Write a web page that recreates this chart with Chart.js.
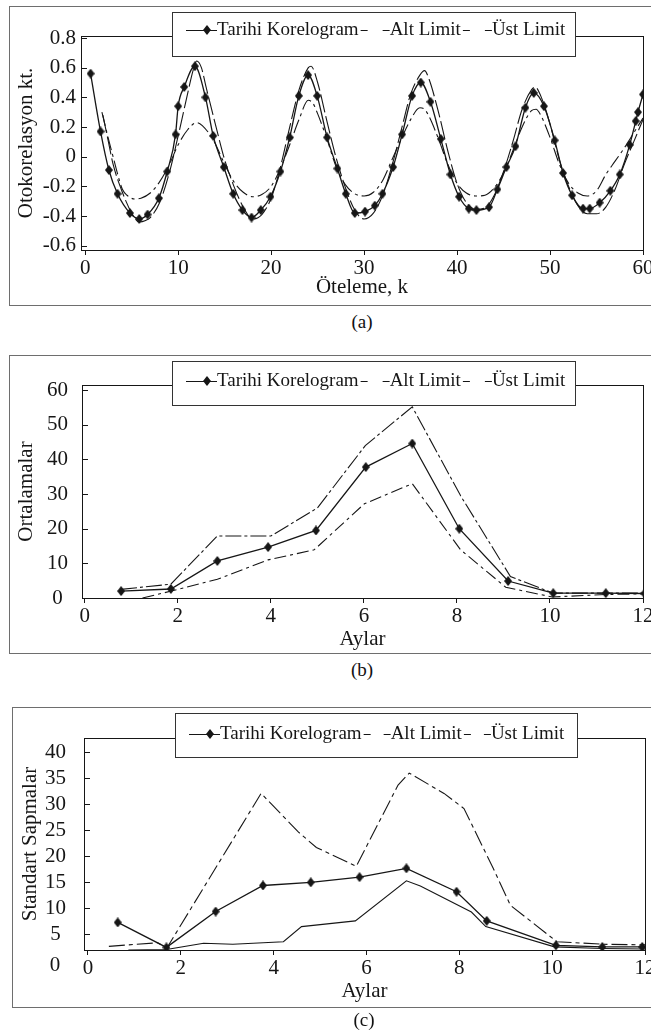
<!DOCTYPE html>
<html>
<head>
<meta charset="utf-8">
<script src="https://cdn.jsdelivr.net/npm/chart.js@4.4.0/dist/chart.umd.min.js"></script>
<style>
  html, body { margin: 0; padding: 0; background: #fff; overflow: hidden; width: 651px; height: 1035px; }
  body { position: relative; font-family: "Liberation Serif", "Times New Roman", serif; color: #111; }
  .frame { position: absolute; border: 1.5px solid #6e6e6e; width: 720px; box-sizing: border-box; }
  canvas { position: absolute; left: 0; }
  .cap { position: absolute; width: 100px; text-align: center; font-size: 19px; line-height: 22px; }
</style>
</head>
<body>
<div class="frame" style="left:9px; top:6px; height:300px"></div>
<div class="frame" style="left:9px; top:355px; height:299px"></div>
<div class="frame" style="left:12px; top:707px; height:301px"></div>

<canvas id="chartA" width="700" height="310" style="top:0px"></canvas>
<canvas id="chartB" width="700" height="315" style="top:340px"></canvas>
<canvas id="chartC" width="700" height="320" style="top:690px"></canvas>

<div class="cap" style="left:312px; top:311px">(a)</div>
<div class="cap" style="left:312px; top:659px">(b)</div>
<div class="cap" style="left:314px; top:1009px">(c)</div>

<script>
const legendNames = ["Tarihi Korelogram", "Alt Limit", "Üst Limit"];

// (a) otokorelasyon
const aLagT = [0.58, 1.65, 2.55, 3.48, 4.81, 5.81, 6.71, 7.92, 8.82, 9.72, 10.0, 10.65, 11.8, 12.94, 13.77, 14.91, 15.92, 16.92, 17.89, 18.89, 19.93, 21.0, 22.0, 22.98, 23.98, 24.95, 26.02, 27.13, 28.03, 29.0, 30.1, 31.15, 31.98, 33.12, 34.09, 35.16, 36.1, 37.14, 38.25, 39.29, 40.22, 41.26, 42.08, 43.44, 44.34, 45.31, 46.28, 47.35, 48.25, 49.35, 50.5, 51.4, 52.37, 53.55, 54.27, 55.34, 56.49, 57.5, 58.57, 59.22, 59.46, 60.0];
const aTarihi = [0.56, 0.17, -0.09, -0.25, -0.38, -0.42, -0.39, -0.28, -0.1, 0.15, 0.34, 0.47, 0.61, 0.4, 0.14, -0.07, -0.25, -0.36, -0.41, -0.36, -0.27, -0.1, 0.13, 0.41, 0.55, 0.41, 0.13, -0.08, -0.25, -0.38, -0.37, -0.33, -0.25, -0.07, 0.15, 0.41, 0.5, 0.37, 0.12, -0.12, -0.27, -0.35, -0.36, -0.34, -0.22, -0.07, 0.07, 0.33, 0.43, 0.34, 0.11, -0.11, -0.26, -0.35, -0.35, -0.31, -0.23, -0.12, 0.08, 0.24, 0.3, 0.42];
const aLagAlt = [1.8, 2.5, 3, 3.5, 4, 4.5, 5.3, 6, 7, 8, 9, 10, 11, 12, 12.6, 13.8, 15, 16, 17, 18, 19, 20, 21, 22, 23, 24, 24.5, 25, 26, 27, 28, 29, 30, 31, 32, 33, 34, 35, 36, 36.5, 37, 38, 39, 40, 41, 42, 43, 44, 45, 46, 47, 48, 48.5, 49, 50, 51, 52, 53, 54, 55, 56, 57, 58, 59, 60];
const aAlt = [0.3, 0.12, 0.0, -0.12, -0.22, -0.26, -0.285, -0.28, -0.245, -0.17, -0.06, 0.08, 0.18, 0.23, 0.21, 0.11, -0.05, -0.17, -0.24, -0.27, -0.255, -0.2, -0.08, 0.08, 0.25, 0.38, 0.36, 0.29, 0.12, -0.07, -0.19, -0.25, -0.265, -0.24, -0.16, -0.02, 0.12, 0.25, 0.33, 0.32, 0.27, 0.12, -0.05, -0.18, -0.245, -0.265, -0.26, -0.21, -0.11, 0.04, 0.2, 0.31, 0.32, 0.28, 0.13, -0.05, -0.18, -0.245, -0.265, -0.23, -0.12, -0.03, 0.06, 0.16, 0.26];
const aLagUst = [1.9, 2.5, 3, 4, 5, 5.8, 6.5, 7, 8, 9, 10, 11, 11.6, 12, 12.5, 13, 14, 15, 16, 17, 18, 19, 20, 21, 22, 23, 24, 24.3, 25, 26, 27, 28, 29, 30, 31, 32, 33, 34, 35, 36, 36.5, 37, 38, 39, 40, 41, 42, 43, 44, 45, 46, 47, 48, 48.4, 49, 50, 51, 52, 53, 54, 55, 56, 57, 58, 59, 60];
const aUst = [0.28, 0.1, -0.05, -0.24, -0.38, -0.44, -0.43, -0.41, -0.31, -0.12, 0.14, 0.42, 0.58, 0.645, 0.6, 0.47, 0.22, -0.02, -0.2, -0.34, -0.42, -0.39, -0.28, -0.07, 0.2, 0.45, 0.6, 0.61, 0.5, 0.24, -0.01, -0.21, -0.36, -0.42, -0.38, -0.26, -0.06, 0.18, 0.42, 0.55, 0.58, 0.52, 0.3, 0.04, -0.18, -0.31, -0.355, -0.345, -0.26, -0.1, 0.1, 0.32, 0.45, 0.47, 0.41, 0.22, -0.02, -0.2, -0.33, -0.385, -0.385, -0.34, -0.22, -0.05, 0.1, 0.25];
const aXTicks = [0, 10, 20, 30, 40, 50, 60];
const aYTicks = [-0.6, -0.4, -0.2, 0, 0.2, 0.4, 0.6, 0.8];

// (b) ortalamalar
const bAyT = [0.78, 1.85, 2.85, 3.94, 4.97, 6.04, 7.04, 8.05, 9.1, 10.07, 11.2, 12.03];
const bTarihi = [2.0, 2.6, 10.7, 14.7, 19.5, 37.8, 44.6, 20.0, 4.9, 1.4, 1.4, 1.3];
const bAyAlt = [1.24, 1.86, 2.85, 3.94, 4.93, 6.01, 7.04, 8.08, 9.05, 10.05, 11.19, 12.03];
const bAlt = [0.0, 2.0, 5.4, 11.0, 13.9, 27.2, 33.0, 13.9, 3.1, 0.3, 1.0, 1.2];
const bAyUst = [0.78, 1.85, 2.85, 4.0, 5.0, 6.03, 7.04, 8.08, 9.15, 10.07, 11.2, 12.03];
const bUst = [2.5, 4.0, 17.9, 17.9, 26.0, 44.0, 55.2, 29.5, 6.2, 1.4, 1.4, 1.4];
const bXTicks = [0, 2, 4, 6, 8, 10, 12];
const bYTicks = [0, 10, 20, 30, 40, 50, 60];

// (c) standart sapmalar
const cAyT = [0.64, 1.69, 2.75, 3.77, 4.8, 5.85, 6.86, 7.94, 8.59, 10.08, 11.08, 11.94];
const cTarihi = [7.3, 2.5, 9.4, 14.4, 15.0, 16.0, 17.7, 13.2, 7.6, 2.9, 2.6, 2.6];
const cAyAlt = [0.87, 1.69, 2.49, 3.12, 4.21, 4.6, 5.76, 6.86, 7.16, 8.26, 8.57, 10.05, 11.08, 12.0];
const cAlt = [2.0, 2.1, 3.3, 3.1, 3.6, 6.5, 7.6, 15.3, 14.3, 9.3, 6.5, 2.6, 2.3, 2.2];
const cAyUst = [0.45, 1.5, 1.7, 3.73, 4.53, 4.92, 5.78, 6.68, 6.92, 7.67, 8.1, 8.73, 9.1, 10.1, 11.1, 12.0];
const cUst = [2.7, 3.4, 2.4, 32.1, 24.7, 21.7, 18.1, 33.7, 36.0, 32.1, 29.2, 17.7, 10.6, 3.6, 3.1, 3.0];
const cXTicks = [0, 2, 4, 6, 8, 10, 12];
const cYTicks = [5, 10, 15, 20, 25, 30, 35, 40];

const serif = '"Liberation Serif", "Times New Roman", serif';
const ink = "#161616";

function pts(xs, ys) {
  return xs.map((x, i) => ({ x: x, y: ys[i] }));
}

function makeDiamond(w, h) {
  const c = document.createElement("canvas");
  c.width = w;
  c.height = h;
  const g = c.getContext("2d");
  g.fillStyle = ink;
  g.beginPath();
  g.moveTo(w / 2, 0);
  g.lineTo(w, h / 2);
  g.lineTo(w / 2, h);
  g.lineTo(0, h / 2);
  g.closePath();
  g.fill();
  return c;
}
const diamond = makeDiamond(8, 10);

function tarihiSet(data, curved) {
  return {
    label: legendNames[0],
    data: data,
    borderColor: ink,
    borderWidth: 1.3,
    pointStyle: diamond,
    pointRadius: 5,
    cubicInterpolationMode: curved ? "monotone" : "default",
    tension: 0,
  };
}

function limitSet(idx, data, dash, curved) {
  return {
    label: legendNames[idx],
    data: data,
    borderColor: ink,
    borderWidth: 1.1,
    borderDash: dash,
    pointRadius: 0,
    cubicInterpolationMode: curved ? "monotone" : "default",
    tension: 0,
  };
}

const framePlugin = {
  id: "korFrame",
  afterDraw(chart, args, opts) {
    const ctx = chart.ctx;
    const a = chart.chartArea;
    const yScale = chart.scales.y;
    ctx.save();
    ctx.strokeStyle = ink;
    ctx.lineWidth = 1;
    ctx.setLineDash([]);
    ctx.strokeRect(a.left + 0.5, a.top + 0.5, a.right - a.left, a.bottom - a.top);

    // y ticks point inward
    yScale.ticks.forEach((t) => {
      const py = Math.round(yScale.getPixelForValue(t.value)) + 0.5;
      ctx.beginPath();
      ctx.moveTo(a.left, py);
      ctx.lineTo(a.left + 6, py);
      ctx.stroke();
    });

    ctx.fillStyle = ink;
    if (opts.extra) {
      ctx.font = "21px " + serif;
      ctx.textAlign = "center";
      ctx.textBaseline = "middle";
      ctx.fillText(opts.extra.text, opts.extra.x, opts.extra.y);
    }

    const lg = opts.box;
    ctx.fillStyle = "#fff";
    ctx.fillRect(lg.left, lg.top, lg.width, lg.height);
    ctx.strokeStyle = "#333";
    ctx.strokeRect(lg.left + 0.5, lg.top + 0.5, lg.width, lg.height);

    ctx.strokeStyle = ink;
    ctx.fillStyle = ink;
    ctx.font = "19px " + serif;
    ctx.textAlign = "left";
    ctx.textBaseline = "middle";
    const ty = lg.top + lg.textOffset;
    let x = lg.left + 14;
    ctx.beginPath();
    ctx.moveTo(x, ty + 0.5);
    ctx.lineTo(x + 31, ty + 0.5);
    ctx.stroke();
    ctx.drawImage(diamond, x + 17, ty - 5);
    x += 31;
    chart.data.datasets.forEach((ds, i) => {
      if (i > 0) {
        ctx.beginPath();
        ctx.moveTo(x + 2, ty + 0.5);
        ctx.lineTo(x + 9, ty + 0.5);
        ctx.moveTo(x + lg.gap - 7, ty + 0.5);
        ctx.lineTo(x + lg.gap, ty + 0.5);
        ctx.stroke();
        x += lg.gap;
      }
      ctx.fillText(ds.label, x, ty);
      x += ctx.measureText(ds.label).width;
    });
    ctx.restore();
  },
};

function buildChart(id, p) {
  const canvas = document.getElementById(id);
  return new Chart(canvas.getContext("2d"), {
    type: "line",
    data: { datasets: p.datasets },
    options: {
      responsive: false,
      animation: false,
      devicePixelRatio: 1,
      layout: { padding: { left: 0, right: p.padRight, top: p.padTop, bottom: 0 } },
      plugins: {
        legend: { display: false },
        tooltip: { enabled: false },
        korFrame: p.frame,
      },
      scales: {
        x: {
          type: "linear",
          min: p.xMin,
          max: p.xMax,
          afterBuildTicks: (s) => {
            s.ticks = p.xTicks.map((v) => ({ value: v }));
          },
          afterFit: (s) => {
            s.height = p.xHeight;
          },
          grid: { drawOnChartArea: false, drawTicks: true, tickLength: 5, color: ink, lineWidth: 1 },
          border: { display: false },
          ticks: {
            font: { family: serif, size: 21 },
            color: ink,
            padding: 1,
            maxRotation: 0,
            autoSkip: false,
            callback: (v) => String(v),
          },
          title: {
            display: true,
            text: p.xTitle,
            font: { family: serif, size: 21 },
            color: ink,
            padding: { top: 0, bottom: p.xTitlePad },
          },
        },
        y: {
          type: "linear",
          min: p.yMin,
          max: p.yMax,
          afterBuildTicks: (s) => {
            s.ticks = p.yTicks.map((v) => ({ value: v }));
          },
          afterFit: (s) => {
            s.width = p.yWidth;
          },
          grid: { display: false, drawTicks: false },
          border: { display: false },
          ticks: {
            font: { family: serif, size: 21 },
            color: ink,
            padding: p.yPad,
            crossAlign: p.yAlign,
            autoSkip: false,
            callback: p.yFormat,
          },
          title: {
            display: true,
            text: p.yTitle,
            font: { family: serif, size: 21 },
            color: ink,
            padding: { top: p.yTitlePad, bottom: 0 },
          },
        },
      },
    },
    plugins: [framePlugin],
  });
}

buildChart("chartA", {
  datasets: [
    tarihiSet(pts(aLagT, aTarihi), true),
    limitSet(1, pts(aLagAlt, aAlt), [14, 4, 3, 4], true),
    limitSet(2, pts(aLagUst, aUst), [18, 4], true),
  ],
  padTop: 36, padRight: 57, xHeight: 60, yWidth: 81,
  xMin: -0.45, xMax: 60, xTicks: aXTicks, xTitle: "Öteleme, k", xTitlePad: 10,
  yMin: -0.629, yMax: 0.8135, yTicks: aYTicks, yTitle: "Otokorelasyon kt.", yTitlePad: 14,
  yPad: 5, yAlign: "near",
  yFormat: (v) => (v === 0 ? "0" : v.toFixed(1)),
  frame: { box: { left: 172, top: 12, width: 403, height: 44, textOffset: 18, gap: 31 } },
});

buildChart("chartB", {
  datasets: [
    tarihiSet(pts(bAyT, bTarihi), false),
    limitSet(1, pts(bAyAlt, bAlt), [12, 4, 3, 4], false),
    limitSet(2, pts(bAyUst, bUst), [16, 3, 3, 3], false),
  ],
  padTop: 45, padRight: 57, xHeight: 57, yWidth: 82,
  xMin: -0.06, xMax: 12, xTicks: bXTicks, xTitle: "Aylar", xTitlePad: 3,
  yMin: 0, yMax: 61.5, yTicks: bYTicks, yTitle: "Ortalamalar", yTitlePad: 14,
  yPad: 14, yAlign: "center",
  yFormat: (v) => String(v),
  frame: { box: { left: 172, top: 21, width: 403, height: 44, textOffset: 20, gap: 31 } },
});

buildChart("chartC", {
  datasets: [
    tarihiSet(pts(cAyT, cTarihi), false),
    limitSet(1, pts(cAyAlt, cAlt), [], false),
    limitSet(2, pts(cAyUst, cUst), [16, 4, 4, 4], false),
  ],
  padTop: 48, padRight: 55, xHeight: 60, yWidth: 84,
  xMin: -0.086, xMax: 12, xTicks: cXTicks, xTitle: "Aylar", xTitlePad: 6,
  yMin: 2, yMax: 42.75, yTicks: cYTicks, yTitle: "Standart Sapmalar", yTitlePad: 18,
  yPad: 18, yAlign: "center",
  yFormat: (v) => String(v),
  frame: {
    box: { left: 175, top: 23, width: 402, height: 44, textOffset: 21, gap: 29 },
    extra: { text: "0", x: 55, y: 275 },
  },
});
</script>
</body>
</html>
